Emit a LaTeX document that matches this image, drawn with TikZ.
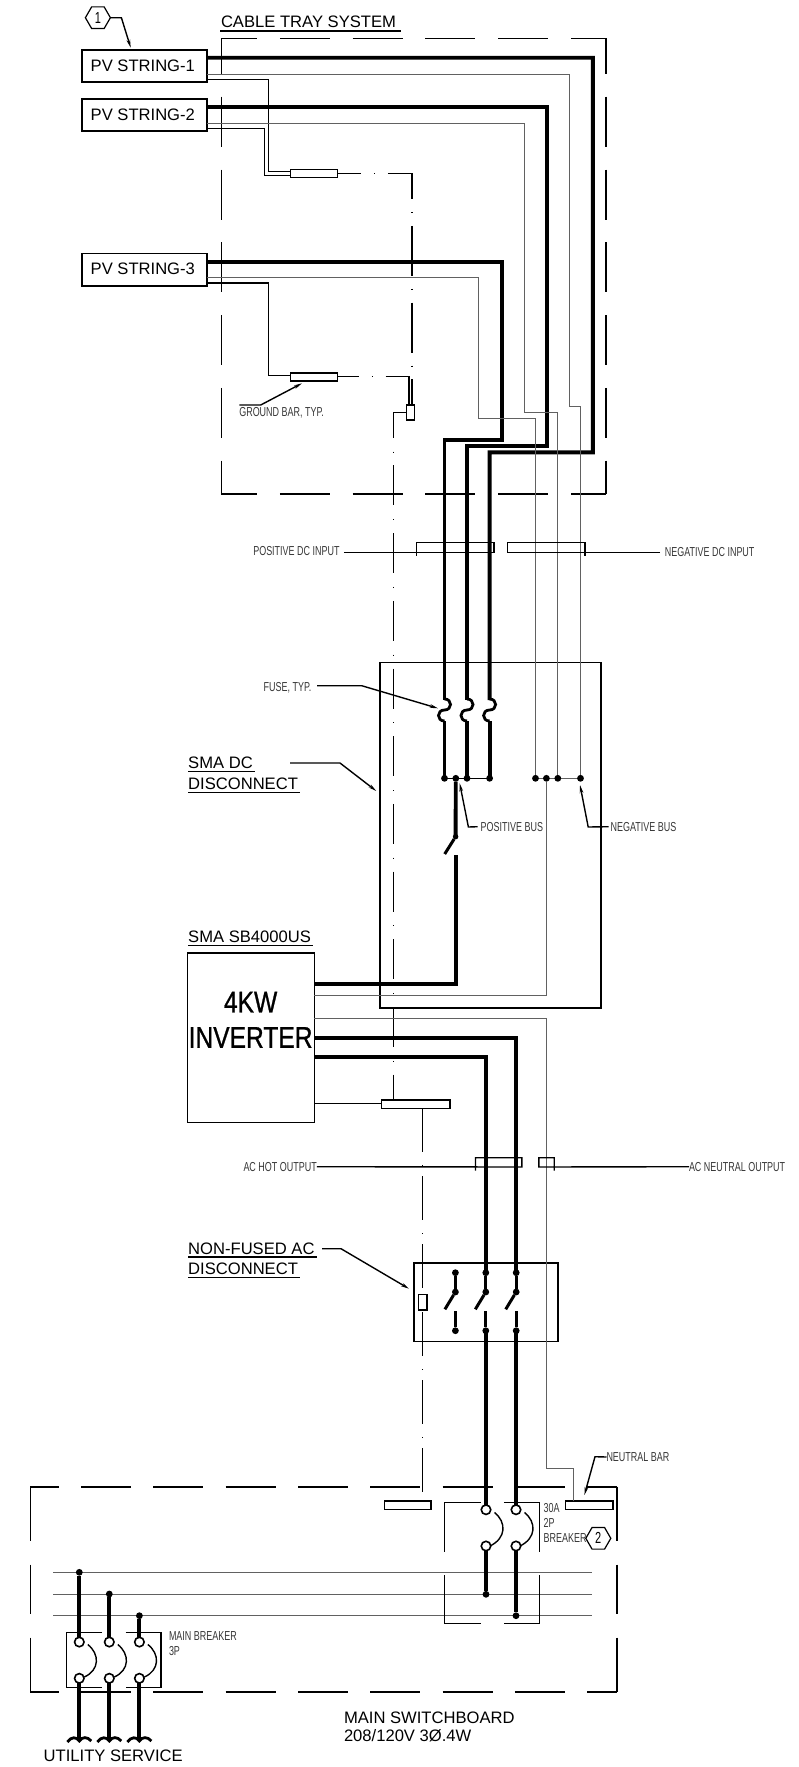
\documentclass[tikz,border=0pt]{standalone}
\usepackage{fontspec}
\setmainfont{Liberation Sans}
\newfontfamily\narrowfont[FakeStretch=0.69]{Liberation Sans}
\newfontfamily\invfont[FakeStretch=0.82,FakeBold=0.8]{Liberation Sans}
\usetikzlibrary{arrows.meta,shapes.geometric,calc}
% rectangle node from corners: name, x1, y1, x2, y2, style
\newcommand{\rectnode}[6]{%
  \pgfmathsetmacro{\cxx}{(#2+#4)/2}\pgfmathsetmacro{\cyy}{(#3+#5)/2}%
  \pgfmathsetmacro{\wdd}{#4-#2}\pgfmathsetmacro{\htt}{#5-#3}%
  \node[#6,minimum width=\wdd pt,minimum height=\htt pt] (#1) at (\cxx,\cyy) {};}
\tikzset{
  x=1pt,y=-1pt,
  rectb/.style={draw=black,fill=white,line width=1.6pt,inner sep=0,outer sep=0},
  rectn/.style={draw=black,line width=1.5pt,inner sep=0,outer sep=0},
  thickw/.style={line width=3.9pt,line join=miter},
  midw/.style={line width=2.8pt},
  thinw/.style={line width=1pt,draw=black!62},
  gnd/.style={line width=1.4pt},
  lead/.style={line width=1.4pt},
  leadar/.style={line width=1.4pt,-{Stealth[length=8pt,width=3.6pt]}},
  trayup/.style={line width=1.6pt,dash pattern=on 50pt off 22.8pt,dash phase=14.4pt},
  trayh/.style={line width=1.6pt,dash pattern=on 50pt off 22.3pt,dash phase=21.5pt},
  trayv/.style={line width=1.6pt,dash pattern=on 54pt off 24pt on 49pt off 24pt},
  dd/.style={line width=1.4pt,dash pattern=on 40pt off 13.8pt on 1pt off 12.9pt},
  ddA/.style={line width=1.4pt,dash pattern=on 50pt off 13pt on 1pt off 12.8pt},
  ddB/.style={line width=1.4pt,dash pattern=on 44pt off 13pt on 1pt off 10pt},
  big/.style={font=\fontsize{16.6}{18}\selectfont,inner sep=0,outer sep=0,text height=12pt,text depth=0pt,anchor=west},
  small/.style={font=\narrowfont\fontsize{13}{14}\selectfont,text=black!78,inner sep=0,outer sep=0,text height=9.4pt,text depth=0pt,anchor=west},
  inv/.style={font=\invfont\fontsize{30}{32}\selectfont,inner sep=0,outer sep=0,text height=21.5pt,text depth=0pt},
  hexa/.style={regular polygon,regular polygon sides=6,draw=black,fill=white,line width=1.2pt,minimum size=25pt,inner sep=0,outer sep=0,font=\narrowfont\fontsize{16}{16}\selectfont},
  dotb/.style={circle,fill=black,inner sep=0,outer sep=0,minimum size=6.8pt},
  term/.style={circle,draw=black,fill=white,line width=1.6pt,inner sep=0,outer sep=0,minimum size=9.5pt},
}
\begin{document}
\begin{tikzpicture}
\useasboundingbox (0,0) rectangle (798,1767);
\fill[white] (0,0) rectangle (798,1767);

% cable tray
\draw[trayup] (221.4,38.3) -- (605.8,38.3);
\draw[trayup] (221.4,38.3) -- (221.4,494);
\draw[trayup] (605.8,38.3) -- (605.8,494);
\draw[trayup] (221.4,494) -- (605.8,494);
% main switchboard outline
\draw[trayh] (30.3,1486.7) -- (616.9,1486.7);
\draw[trayh] (30.3,1691.7) -- (616.9,1691.7);
\draw[trayv] (30.3,1486.7) -- (30.3,1691.7);
\draw[trayv] (616.9,1486.7) -- (616.9,1691.7);

% enclosures
\rectnode{dcbox}{379.9}{662.7}{600.8}{1008}{rectn}
\rectnode{acbox}{413.9}{1263}{558}{1341.3}{rectn}

% PV strings
\node[rectb,minimum width=125pt,minimum height=31.7pt] (pv1) at (144.3,65.85) {};
\node[rectb,minimum width=125pt,minimum height=32pt] (pv2) at (144.3,115) {};
\node[rectb,minimum width=125pt,minimum height=32.4pt] (pv3) at (144.3,269.5) {};
\node[big] (pv1t) at (90.7,65) {PV STRING-1};
\node[big] (pv2t) at (90.7,114) {PV STRING-2};
\node[big] (pv3t) at (90.7,268) {PV STRING-3};

% ground bars
\rectnode{gb1}{290.4}{169.3}{337.5}{177.3}{rectb}
\rectnode{gb2}{290.4}{372.7}{337.5}{380.7}{rectb}
\rectnode{gbox}{406.4}{405}{414.3}{420}{rectb}
\rectnode{gb3}{381.5}{1100}{450.2}{1108.3}{rectb}
\rectnode{gb4}{384.4}{1501}{431}{1509.3}{rectb}
\rectnode{nb}{565.5}{1501}{612.9}{1509.3}{rectb}

% inverter
\rectnode{inverter}{187.4}{952.7}{314.3}{1122.3}{rectb}
\node[inv] (kw) at (250.6,1001.7) {4KW};
\node[inv] (invt) at (250.6,1037) {INVERTER};

% ground wiring
\draw[gnd] ([yshift=-13.45pt]pv1.east) -- (268.6,79.3) -- (268.6,171.7) -- (gb1.west |- 0,171.7);
\draw[gnd] ([yshift=-13.3pt]pv2.east) -- (264.6,128.3) -- (264.6,175.3) -- (gb1.west |- 0,175.3);
\draw[gnd] ([yshift=-13.5pt]pv3.east) -- (268.6,283) -- (268.6,375.7) -- (gb2.west |- 0,375.7);
\draw[ddA,dash phase=26.5pt] (gb1.east) -- (412.1,173.3) -- (412.1,405);
\draw[ddA,dash phase=28.6pt] (gb2.east) -- (408.9,376.7) -- (408.9,405);
\draw[dd,dash phase=2pt] (gbox.west) -- (393.6,412.5) -- (393.6,1100);
\draw[gnd] (inverter.east |- 0,1103.3) -- (gb3.west |- 0,1103.3);
\coordinate (g3out) at (422.6,1108.3);
\draw[ddB] (g3out) -- (422.6,1501);
\rectnode{acg}{418.6}{1294.3}{426.9}{1310}{rectb}

% positive conductors
\draw[thickw] ([yshift=8.15pt]pv1.east) -- (592.9,57.7) -- (592.9,452.3) -- (489.6,452.3) -- (489.6,700);
\draw[thickw] ([yshift=8.3pt]pv2.east) -- (546.8,106.7) -- (546.8,445.7) -- (467,445.7) -- (467,700);
\draw[thickw] ([yshift=7.8pt]pv3.east) -- (502,261.7) -- (502,440) -- (444.5,440) -- (444.5,700);
% negative conductors
\draw[thinw] ([yshift=-8.15pt]pv1.east) -- (569.6,74) -- (569.6,406.7) -- (580.5,406.7) -- (580.5,778.3);
\draw[thinw] ([yshift=-8.3pt]pv2.east) -- (524.3,123.3) -- (524.3,412.7) -- (557.8,412.7) -- (557.8,778.3);
\draw[thinw] ([yshift=-7.8pt]pv3.east) -- (478.6,277.3) -- (478.6,418.3) -- (535.5,418.3) -- (535.5,778.3);

% fuses
\foreach \n/\x in {a/444.5,b/467,c/489.6}{
  \draw[midw] (\x,699) .. controls (\x+8,699) and (\x+8,710) .. (\x,710) .. controls (\x-8,710) and (\x-8,721) .. (\x,721);
  \draw[thickw] (\x,721) -- (\x,778.3);
}
% DC bus
\draw[gnd] (444.5,778.3) -- (489.6,778.3);
\draw[thinw] (535.5,778.3) -- (580.5,778.3);
\foreach \n/\x in {pa/444.5,pb/455.8,pc/467,pd/489.6,na/535.5,nb/546.4,nc/557.8,nd/580.5}{
  \node[dotb] (bus\n) at (\x,778.3) {};
}
% DC switch and run to inverter
\draw[thickw] (buspb) -- (455.6,836.7);
\node[dotb,minimum size=5.5pt] (swp) at (455.6,836.7) {};
\coordinate (swb) at (444.7,854);
\draw[midw,line width=3pt] (swp) -- (swb);
\draw[thickw] (inverter.east |- 0,983.7) -- (455.6,983.7) -- (455.6,855);
\draw[thinw] (busnb) -- (546.4,995.7) -- (inverter.east |- 0,995.7);

% AC conductors
\draw[thinw] (inverter.east |- 0,1018.3) -- (546.4,1018.3) -- (546.4,1468.3) -- (573.4,1468.3) -- (573.4,1501);
\draw[thickw] (inverter.east |- 0,1037.7) -- (516.2,1037.7) -- (516.2,1272.7);
\draw[thickw] (inverter.east |- 0,1057.3) -- (485.8,1057.3) -- (485.8,1272.7);
% AC disconnect
\foreach \n/\x in {a/455.4,b/485.8,c/516.2}{
  \node[dotb] (sa\n) at (\x,1272.7) {};
  \node[dotb] (sb\n) at (\x,1292) {};
  \node[dotb] (sc\n) at (\x,1330.7) {};
  \draw[midw] (sa\n) -- (sb\n);
  \draw[midw,line width=3pt] (sb\n) -- (\x-10.5,1309.3);
  \draw[midw] (\x,1311) -- (sc\n);
}
\draw[thickw] (485.8,1330.7) -- (485.8,1509.7);
\draw[thickw] (516.2,1330.7) -- (516.2,1509.7);

% bus bars
\foreach \n/\y in {1/1572.3,2/1594,3/1615.7}{
  \coordinate (bl\n) at (53.2,\y);
  \coordinate (br\n) at (592,\y);
  \draw[thinw] (bl\n) -- (br\n);
}

% 2P breaker
\draw[gnd] (480.5,1502.3) -- (444.5,1502.3) -- (444.5,1551.7);
\draw[gnd] (503.8,1502.3) -- (539.4,1502.3) -- (539.4,1551.7);
\draw[gnd] (444.5,1575) -- (444.5,1623.7) -- (480.5,1623.7);
\draw[gnd] (539.4,1575) -- (539.4,1623.7) -- (503.8,1623.7);
\node[dotb] (t1) at (486,1594.3) {};
\node[dotb] (t2) at (516,1615.7) {};
\draw[thickw] (486,1546) -- (t1);
\draw[thickw] (516,1546) -- (t2);
\foreach \n/\x in {a/486,b/516}{
  \draw[gnd] (\x+8.5,1512.5) .. controls (\x+20.5,1522) and (\x+20.5,1538) .. (\x+4,1546);
  \node[term] (bt\n) at (\x,1509.7) {};
  \node[term] (bb\n) at (\x,1546) {};
}

% main breaker
\draw[gnd] (102,1632.3) -- (66.2,1632.3) -- (66.2,1687.3) -- (102,1687.3);
\draw[gnd] (125.5,1632.3) -- (161,1632.3) -- (161,1687.3) -- (125.5,1687.3);
\foreach \n/\x/\y in {a/79.3/1572.3,b/109.3/1594,c/139.4/1615.7}{
  \node[dotb] (mt\n) at (\x,\y) {};
  \draw[thickw] (mt\n) -- (\x,1642);
  \draw[thickw] (\x,1678.3) -- (\x,1740);
  \draw[gnd] (\x+8.5,1644.5) .. controls (\x+20.5,1654) and (\x+20.5,1670) .. (\x+5,1677);
  \node[term] (mu\n) at (\x,1642) {};
  \node[term] (ml\n) at (\x,1678.3) {};
  \draw[midw] (\x-12,1742) .. controls (\x-8,1736.5) and (\x-3,1736.5) .. (\x,1741) .. controls (\x+3,1736.5) and (\x+8,1736.5) .. (\x+12,1741);
}

% DC input brackets
\node[small] (posin) at (253.3,550.7) {POSITIVE DC INPUT};
\node[small] (negin) at (664.9,552) {NEGATIVE DC INPUT};
\coordinate (pl) at (343.9,552.3);
\coordinate (nl) at (660,552.3);
\draw[lead] (pl) -- (494.1,552.3) -- (494.1,542.7) -- (416.2,542.7) -- (416.2,556);
\draw[lead] (nl) -- (507.2,552.3) -- (507.2,542.7) -- (585,542.7) -- (585,556);
% AC output brackets
\node[small] (achot) at (243.5,1166.7) {AC HOT OUTPUT};
\node[small] (acneu) at (689,1166.7) {AC NEUTRAL OUTPUT};
\draw[lead] (achot.east) -- (521.8,1167) -- (521.8,1157.7) -- (475.5,1157.7) -- (475.5,1170.7);
\draw[lead] (acneu.west) -- (538.8,1167) -- (538.8,1157.7) -- (554.2,1157.7) -- (554.2,1170.7);

% labels and leaders
\node[big] (traylbl) at (221,21.7) {CABLE TRAY SYSTEM};
\draw[gnd] (220.4,31) -- (401,31);
\node[hexa] (hex1) at (97.9,17.7) {1};
\draw[leadar] (hex1.east) -- (121.4,17.7) -- (130.7,47.7);
\node[small] (gbl) at (239.3,411.7) {GROUND BAR, TYP.};
\coordinate (gbs) at (239.3,405);
\draw[leadar] (gbs) -- (260.7,405) -- (302,383.3);
\node[small] (fusel) at (263.7,686.7) {FUSE, TYP.};
\draw[leadar] (317,685.7) -- (361.7,685.7) -- (438,708.3);
\node[big] (sdc1) at (188.2,762.3) {SMA DC};
\node[big] (sdc2) at (188.2,783) {DISCONNECT};
\draw[gnd] (188,771.7) -- (254.5,771.7);
\draw[gnd] (188,792.3) -- (299.5,792.3);
\draw[leadar] (290.2,763) -- (340,763) -- (376.3,791);
\node[small] (posb) at (480.7,826.7) {POSITIVE BUS};
\node[small] (negb) at (610.7,826.7) {NEGATIVE BUS};
\draw[leadar] ([xshift=-3pt]posb.west) -- (468.4,827) -- (459.7,783.3);
\draw[leadar] ([xshift=-2pt]negb.west) -- (588.2,827) -- (580,785);
\node[big] (smai) at (188.2,936) {SMA SB4000US};
\draw[gnd] (188,945.7) -- (313,945.7);
\node[big] (nf1) at (188.2,1248.3) {NON-FUSED AC};
\node[big] (nf2) at (188.2,1268) {DISCONNECT};
\draw[gnd] (188,1257) -- (316.5,1257);
\draw[gnd] (188,1277.7) -- (299.5,1277.7);
\draw[leadar] (322,1248.7) -- (341,1248.7) -- (409,1288.7);
\node[small] (neut) at (606.5,1457) {NEUTRAL BAR};
\draw[leadar] (neut.west) -- (595,1456.7) -- (584.4,1495);
\node[small] (l30) at (543.7,1507.7) {30A};
\node[small] (l2p) at (543.7,1522.7) {2P};
\node[small] (lbr) at (543.7,1537.7) {BREAKER};
\node[hexa] (hex2) at (598.3,1538.3) {2};
\node[small] (mb1) at (169,1635.7) {MAIN BREAKER};
\node[small] (mb2) at (169,1650.7) {3P};
\node[big] (ms1) at (344,1717.3) {MAIN SWITCHBOARD};
\node[big] (ms2) at (344,1735.7) {208/120V 3Ø.4W};
\node[big] (util) at (43.7,1755) {UTILITY SERVICE};
\end{tikzpicture}
\end{document}
